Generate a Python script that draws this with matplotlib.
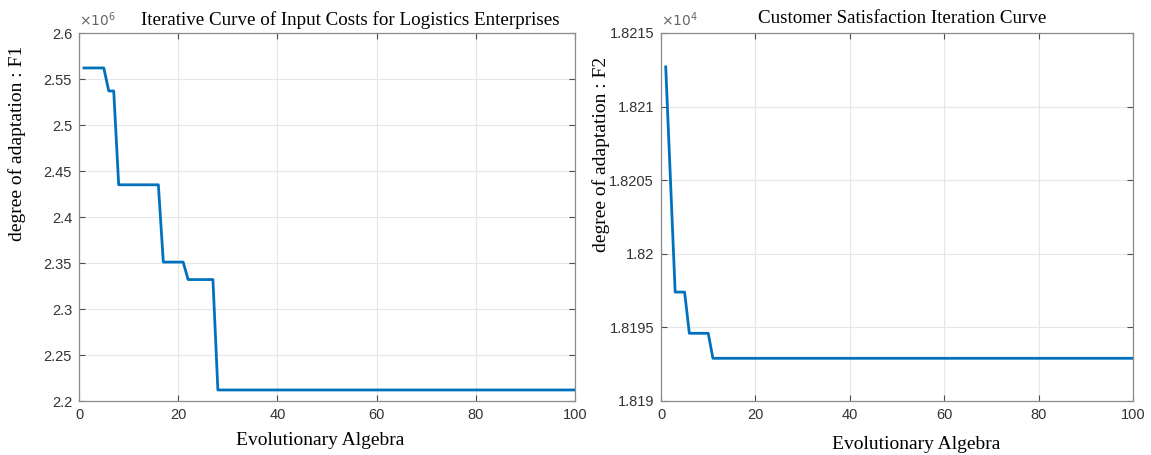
import matplotlib.pyplot as plt
from matplotlib.ticker import FuncFormatter, MultipleLocator

# generations where the best fitness changes, and the fitness at those generations
gen_f1 = [1, 5, 6, 7, 8, 16, 17, 21, 22, 27, 28, 100]
cost_f1 = [2.562e6, 2.562e6, 2.537e6, 2.537e6, 2.435e6, 2.435e6,
           2.351e6, 2.351e6, 2.332e6, 2.332e6, 2.212e6, 2.212e6]

gen_f2 = [1, 3, 5, 6, 10, 11, 100]
sat_f2 = [18212.7, 18197.4, 18197.4, 18194.6, 18194.6, 18192.9, 18192.9]

blue = '#0072BD'
axcol = '#4d4d4d'
serif = 'Liberation Serif'
sans = 'Liberation Sans'

fig = plt.figure(figsize=(11.51, 4.55), dpi=100)
ax1 = fig.add_axes([79 / 1151, 54 / 455, 496 / 1151, 368 / 455])
ax2 = fig.add_axes([661 / 1151, 54 / 455, 472 / 1151, 368 / 455])


def style(ax, scale, exp):
    ax.set_xlim(0, 100)
    ax.xaxis.set_major_locator(MultipleLocator(20))
    ax.yaxis.set_major_formatter(FuncFormatter(lambda v, p: '%g' % round(v / scale, 6)))
    ax.grid(True, color='#e6e6e6', linewidth=0.8)
    ax.set_axisbelow(True)
    ax.tick_params(direction='in', length=4, width=0.8, colors=axcol,
                   top=True, right=True, labelsize=10.5, pad=5)
    for lab in ax.get_xticklabels() + ax.get_yticklabels():
        lab.set_family(sans)
        lab.set_color('#333333')
    for s in ax.spines.values():
        s.set_color('#8c8c8c')
        s.set_linewidth(0.9)
    ax.text(0.0, 1.012, r'$\times10^{%d}$' % exp, transform=ax.transAxes,
            fontsize=10, color='#666666', ha='left', va='bottom')


ax1.plot(gen_f1, cost_f1, color=blue, linewidth=2.0)
ax1.set_ylim(2.2e6, 2.6e6)
ax1.yaxis.set_major_locator(MultipleLocator(0.05e6))
style(ax1, 1e6, 6)
ax1.set_title('Iterative Curve of Input Costs for Logistics Enterprises',
              family=serif, fontsize=13.7, x=0.546, pad=6)
ax1.set_xlabel('Evolutionary Algebra', family=serif, fontsize=14)
ax1.xaxis.set_label_coords(0.486, -0.085)
ax1.set_ylabel('degree of adaptation : F1', family=serif, fontsize=14)
ax1.yaxis.set_label_coords(-0.106, 0.70)

ax2.plot(gen_f2, sat_f2, color=blue, linewidth=2.0)
ax2.set_ylim(18190, 18215)
ax2.yaxis.set_major_locator(MultipleLocator(5))
style(ax2, 1e4, 4)
ax2.set_title('Customer Satisfaction Iteration Curve',
              family=serif, fontsize=13.7, x=0.512, pad=7)
ax2.set_xlabel('Evolutionary Algebra', family=serif, fontsize=14)
ax2.xaxis.set_label_coords(0.54, -0.095)
ax2.set_ylabel('degree of adaptation : F2', family=serif, fontsize=14)
ax2.yaxis.set_label_coords(-0.108, 0.67)

fig.savefig('out.png', dpi=100)
